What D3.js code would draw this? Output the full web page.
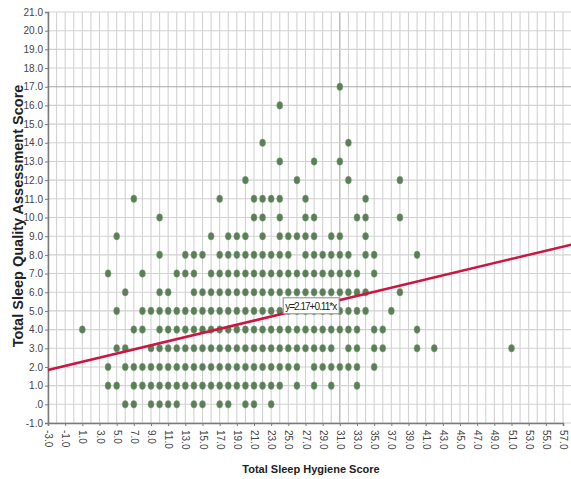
<!DOCTYPE html>
<html><head><meta charset="utf-8">
<script src="https://cdn.jsdelivr.net/npm/d3@7"></script>
<style>body{margin:0;background:#fff}svg{display:block}</style>
</head><body>
<svg id="c" width="571" height="479"></svg>
<script>
// Data: hygiene score (x) per sleep-quality score row (y)
const rowY = [17, 16, 14, 13, 12, 11, 10, 9, 8, 7, 6, 5, 4, 3, 2, 1, 0];
const rowX = [
  [31],
  [24],
  [22, 32],
  [24, 28, 31],
  [20, 26, 32, 38],
  [7, 17, 21, 22, 23, 24, 27, 34],
  [10, 21, 22, 24, 27, 28, 33, 34, 38],
  [5, 16, 18, 19, 20, 22, 24, 25, 26, 27, 28, 30, 31, 34],
  [10, 13, 14, 15, 17, 18, 19, 20, 21, 22, 23, 24, 25, 27, 28, 29, 30, 31, 32, 34, 35, 40],
  [4, 8, 12, 13, 14, 16, 17, 18, 19, 20, 21, 22, 23, 24, 25, 26, 27, 28, 29, 30, 31, 32, 33, 35],
  [6, 10, 11, 14, 15, 16, 17, 18, 19, 20, 21, 22, 23, 24, 25, 26, 27, 28, 29, 30, 31, 32, 33, 34, 38],
  [5, 8, 9, 10, 11, 12, 13, 14, 15, 16, 17, 18, 19, 20, 21, 22, 23, 24, 25, 26, 27, 28, 29, 30, 31, 32, 33, 34, 37],
  [1, 7, 8, 10, 11, 12, 13, 14, 15, 16, 17, 18, 19, 20, 21, 22, 23, 24, 25, 26, 27, 28, 29, 30, 31, 32, 33, 35, 36, 40],
  [5, 6, 9, 10, 11, 12, 13, 14, 15, 16, 17, 18, 19, 20, 21, 22, 23, 24, 25, 26, 27, 28, 29, 30, 32, 33, 35, 36, 40, 42, 51],
  [4, 6, 7, 8, 9, 10, 11, 12, 13, 14, 15, 16, 17, 18, 19, 20, 21, 22, 23, 24, 25, 26, 28, 29, 30, 31, 32, 33, 35],
  [4, 5, 7, 8, 9, 10, 11, 12, 13, 14, 15, 16, 17, 18, 19, 20, 21, 22, 23, 24, 26, 28, 30, 33],
  [6, 7, 9, 10, 11, 12, 14, 15, 17, 18, 20, 21, 23]
];
const fitIntercept = 2.17;
const fitSlope = 0.11;
const fitLabel = "y=2.17+0.11*x";
const xTicks = d3.range(-3, 58, 2);
const yTicks = d3.range(-1, 22, 1);
const xTitle = "Total Sleep Hygiene Score";
const yTitle = "Total Sleep Quality Assessment Score";

const points = [];
rowY.forEach((y, i) => rowX[i].forEach(x => points.push({x, y})));

const svg = d3.select("#c");
const x = d3.scaleLinear().domain([-3, 57]).range([48, 563]);
const y = d3.scaleLinear().domain([-1, 21]).range([423, 12]);
const xMax = 58;

// grid
const g = svg.append("g");
g.selectAll("line.v").data(d3.range(-3, xMax + 1, 1)).join("line")
  .attr("x1", d => x(d)).attr("x2", d => x(d))
  .attr("y1", y(21)).attr("y2", y(-1))
  .attr("stroke", d => d === 31 ? "#a8a8a8" : "#d2d2d2").attr("stroke-width", 1.1);
g.selectAll("line.h").data(d3.range(-1, 22, 1)).join("line")
  .attr("x1", x(-3)).attr("x2", x(xMax))
  .attr("y1", d => y(d)).attr("y2", d => y(d))
  .attr("stroke", d => d === 17 ? "#a8a8a8" : "#d2d2d2").attr("stroke-width", 1.1);

// axes
const yAxis = svg.append("g").attr("transform", `translate(${x(-3)},0)`)
  .call(d3.axisLeft(y).tickValues(yTicks).tickSize(3).tickPadding(2)
    .tickFormat(d => d === 0 ? ".0" : d.toFixed(1)));
const xAxis = svg.append("g").attr("transform", `translate(0,${y(-1)})`)
  .call(d3.axisBottom(x).tickValues(xTicks).tickSize(3)
    .tickFormat(d => d.toFixed(1)));
[yAxis, xAxis].forEach(a => {
  a.select(".domain").attr("stroke", "#7a7a7a").attr("stroke-width", 1.5);
  a.selectAll(".tick line").attr("stroke", "#7a7a7a");
  a.selectAll("text").attr("font-family", "Liberation Sans, Arial, sans-serif")
    .attr("font-size", 10).attr("fill", "#444");
});
xAxis.selectAll("text")
  .attr("transform", "rotate(90)")
  .attr("text-anchor", "start").attr("dy", "0.35em").attr("y", 0).attr("x", 7);

// points
svg.append("g").selectAll("ellipse").data(points).join("ellipse")
  .attr("cx", d => x(d.x)).attr("cy", d => y(d.y))
  .attr("rx", 3).attr("ry", 3.8)
  .attr("fill", "#5b7d58").attr("stroke", "#7fa57b").attr("stroke-width", 0.5);

// fit line
svg.append("line")
  .attr("x1", x(-3)).attr("y1", y(fitIntercept + fitSlope * -3))
  .attr("x2", x(xMax)).attr("y2", y(fitIntercept + fitSlope * xMax))
  .attr("stroke", "#cc1540").attr("stroke-width", 2.5);

// fit label
const lx = 24.4, ly = 5.7;
const lab = svg.append("g").attr("transform", `translate(${x(lx)},${y(ly)})`);
lab.append("rect").attr("width", 56).attr("height", 16)
  .attr("fill", "#fff").attr("stroke", "#888").attr("stroke-width", 1);
lab.append("text").attr("x", 2).attr("y", 12)
  .attr("font-family", "Liberation Sans, Arial, sans-serif").attr("font-size", 10)
  .attr("textLength", 52).attr("fill", "#222").text(fitLabel);

// titles
svg.append("text").attr("x", 311).attr("y", 473).attr("text-anchor", "middle")
  .attr("font-family", "Liberation Sans, Arial, sans-serif").attr("font-weight", "bold")
  .attr("font-size", 11).attr("fill", "#222").text(xTitle);
svg.append("text").attr("transform", "translate(23,216) rotate(-90)").attr("text-anchor", "middle")
  .attr("font-family", "Liberation Sans, Arial, sans-serif").attr("font-weight", "bold")
  .attr("font-size", 14.5).attr("fill", "#222").text(yTitle);
</script>
</body></html>
